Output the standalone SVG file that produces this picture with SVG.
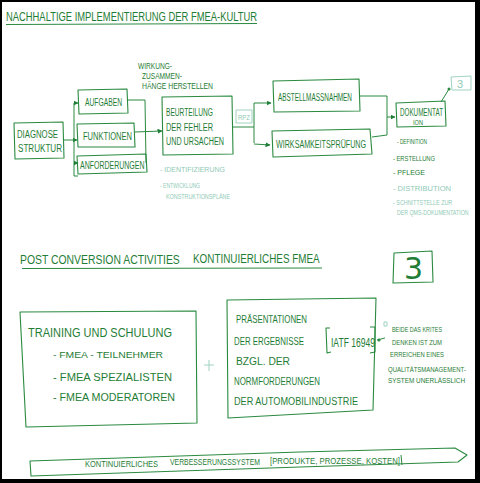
<svg xmlns="http://www.w3.org/2000/svg" width="480" height="483" viewBox="0 0 480 483">
<defs>
<marker id="ah" viewBox="0 0 10 10" refX="9" refY="5" markerWidth="5" markerHeight="5" orient="auto"><path d="M0,0 L10,5 L0,10 z" fill="#1f7f36"/></marker>
<style>
.bx{fill:none;stroke:#2a8a40;stroke-width:1.1;stroke-linejoin:round}
.ln{fill:none;stroke:#2a8a40;stroke-width:1}
.t{font-family:"Liberation Sans",Arial,sans-serif;fill:#1f7d36}
.lt{font-family:"Liberation Sans",Arial,sans-serif;fill:#8fcab6}
.lb{fill:none;stroke:#9fd3c0;stroke-width:1}
</style>
</defs>
<rect x="0" y="0" width="480" height="483" fill="#ffffff"/>
<rect x="0" y="0" width="480" height="2" fill="#000"/>
<rect x="0" y="0" width="2" height="483" fill="#000"/>
<rect x="475" y="0" width="5" height="483" fill="#000"/>
<rect x="0" y="479" width="480" height="4" fill="#000"/>

<g id="title1">
<text class="t" x="6" y="21" font-size="13" textLength="251" lengthAdjust="spacingAndGlyphs">NACHHALTIGE IMPLEMENTIERUNG DER FMEA-KULTUR</text>
<path class="ln" d="M6,24.5 L257,23.5"/>
</g>
<g id="title2">
<text class="t" transform="translate(20,264) scale(0.8,1)" font-size="13">POST CONVERSION ACTIVITIES</text>
<text class="t" transform="translate(193,263) scale(0.76,1)" font-size="13">KONTINUIERLICHES FMEA</text>
<path class="ln" d="M22,268.5 L322,268"/>
</g>

<g id="connectors">
<path class="ln" d="M64,140 L77,140" marker-end="url(#ah)"/>
<path class="ln" d="M74,103 L74,176 L78,176"/>
<path class="ln" d="M74,103 L78,103" marker-end="url(#ah)"/>
<path class="ln" d="M74,163 L78,163" marker-end="url(#ah)"/>
<path class="ln" d="M128,100 L145,100 L146,163 L147,163"/>
<path class="ln" d="M135,132 L162,131" marker-end="url(#ah)"/>
<path class="ln" d="M233,127 L254,127"/>
<path class="ln" d="M254,103 L254,143"/>
<path class="ln" d="M254,103 L271,103" marker-end="url(#ah)"/>
<path class="ln" d="M254,144 L270,145" marker-end="url(#ah)"/>
<path class="ln" d="M360,96 L387,96 L387,135 L372,137"/>
<path class="ln" d="M387,117 L395,117" marker-end="url(#ah)"/>
<path class="ln" d="M441,102 L449,89"/>
<circle cx="449" cy="89" r="1.5" fill="#2a8a40"/>
<path class="ln" d="M377,340 L385,338"/>
<circle cx="379" cy="340" r="1.5" fill="#2a8a40"/>
</g>

<g id="diagnose">
<path class="bx" d="M14,123 L63,122 L64,158 L15,159 Z"/>
<text class="t" x="17" y="138" font-size="10" textLength="41" lengthAdjust="spacingAndGlyphs">DIAGNOSE</text>
<text class="t" x="18" y="152" font-size="10" textLength="44" lengthAdjust="spacingAndGlyphs">STRUKTUR</text>
</g>
<g id="aufgaben">
<path class="bx" d="M78,90 L127,89 L128,113 L79,114 Z"/>
<text class="t" x="85" y="106" font-size="10" textLength="37" lengthAdjust="spacingAndGlyphs">AUFGABEN</text>
</g>
<g id="funktionen">
<path class="bx" d="M77,124 L134,123 L135,147 L78,147 Z"/>
<text class="t" x="83" y="140" font-size="11" textLength="49" lengthAdjust="spacingAndGlyphs">FUNKTIONEN</text>
</g>
<g id="anforderungen">
<path class="bx" d="M77,156 L146,154 L147,172 L78,174 Z"/>
<text class="t" transform="translate(80,169) scale(0.7,1)" font-size="10">ANFORDERUNGEN</text>
</g>
<g id="wirkung">
<text class="t" x="138" y="69" font-size="9" textLength="34" lengthAdjust="spacingAndGlyphs">WIRKUNG-</text>
<text class="t" x="142" y="79" font-size="9" textLength="40" lengthAdjust="spacingAndGlyphs">ZUSAMMEN-</text>
<text class="t" x="142" y="89" font-size="9" textLength="71" lengthAdjust="spacingAndGlyphs">HÄNGE HERSTELLEN</text>
</g>
<g id="beurteilung">
<path class="bx" d="M162,97 L232,96 L233,154 L163,155 Z"/>
<text class="t" x="166" y="116" font-size="10" textLength="47" lengthAdjust="spacingAndGlyphs">BEURTEILUNG</text>
<text class="t" x="166" y="131" font-size="10" textLength="47" lengthAdjust="spacingAndGlyphs">DER FEHLER</text>
<text class="t" x="166" y="145" font-size="10" textLength="58" lengthAdjust="spacingAndGlyphs">UND URSACHEN</text>
<text class="lt" x="160" y="172" font-size="8" textLength="65" lengthAdjust="spacingAndGlyphs">- IDENTIFIZIERUNG</text>
<text class="lt" x="160" y="188" font-size="8" textLength="40" lengthAdjust="spacingAndGlyphs">- ENTWICKLUNG</text>
<text class="lt" x="166" y="199" font-size="8" textLength="64" lengthAdjust="spacingAndGlyphs">KONSTRUKTIONSPLÄNE</text>
</g>
<g id="rpz">
<path class="lb" d="M236,110 L252,110 L252,123 L236,123 Z"/>
<text class="lt" x="238" y="120" font-size="7" textLength="12" lengthAdjust="spacingAndGlyphs">RPZ</text>
</g>
<g id="abstell">
<path class="bx" d="M273,81 L359,79 L360,111 L274,112 Z"/>
<text class="t" x="278" y="101" font-size="10" textLength="74" lengthAdjust="spacingAndGlyphs">ABSTELLMASSNAHMEN</text>
</g>
<g id="wirksamkeit">
<path class="bx" d="M272,131 L370,129 L372,154 L273,157 Z"/>
<text class="t" x="276" y="148" font-size="10" textLength="90" lengthAdjust="spacingAndGlyphs">WIRKSAMKEITSPRÜFUNG</text>
</g>
<g id="dokumentation">
<path class="bx" d="M396,103 L445,101 L446,126 L397,127 Z"/>
<text class="t" x="400" y="116" font-size="10" textLength="43" lengthAdjust="spacingAndGlyphs">DOKUMENTAT</text>
<text class="t" x="413" y="124.5" font-size="6.5" textLength="10" lengthAdjust="spacingAndGlyphs">ION</text>
<text class="t" x="397" y="144" font-size="8" textLength="30" lengthAdjust="spacingAndGlyphs">- DEFINITION</text>
<text class="t" x="393" y="161" font-size="8" textLength="42" lengthAdjust="spacingAndGlyphs">- ERSTELLUNG</text>
<text class="t" x="393" y="175" font-size="8" textLength="32" lengthAdjust="spacingAndGlyphs">- PFLEGE</text>
<text class="lt" x="393" y="191" font-size="8" textLength="58" lengthAdjust="spacingAndGlyphs">- DISTRIBUTION</text>
<text class="lt" transform="translate(393,205) scale(0.72,1)" font-size="7.5">- SCHNITTSTELLE ZUR</text>
<text class="lt" transform="translate(397,215) scale(0.7,1)" font-size="7.5">DER QMS-DOKUMENTATION</text>
</g>
<g id="ref3small">
<path class="lb" d="M451,77 L471,76 L471,90 L452,90 Z"/>
<text class="lt" x="457" y="88" font-size="11">3</text>
</g>
<g id="ref3big">
<path class="bx" d="M394,253 L432,251 L433,282 L393,283 Z"/>
<text class="t" x="404" y="279" font-size="30" style="font-family:'DejaVu Sans',sans-serif">3</text>
</g>

<g id="training">
<path class="bx" d="M20,312 L196,311 L197,423 L26,427 Z"/>
<text class="t" x="28" y="337" font-size="12" textLength="144" lengthAdjust="spacingAndGlyphs">TRAINING UND SCHULUNG</text>
<text class="t" x="53" y="358" font-size="9" textLength="110" lengthAdjust="spacingAndGlyphs">- FMEA - TEILNEHMER</text>
<text class="t" x="53" y="381" font-size="11" textLength="119" lengthAdjust="spacingAndGlyphs">- FMEA  SPEZIALISTEN</text>
<text class="t" x="53" y="401" font-size="11" textLength="122" lengthAdjust="spacingAndGlyphs">- FMEA  MODERATOREN</text>
</g>
<g id="plus">
<path class="lb" d="M204,365 L214,365 M209,360 L209,371"/>
</g>
<g id="praesentation">
<path class="bx" d="M227,300 L376,298 L373,410 L228,418 Z"/>
<text class="t" x="236" y="323" font-size="10" textLength="71" lengthAdjust="spacingAndGlyphs">PRÄSENTATIONEN</text>
<text class="t" x="234" y="345" font-size="10" textLength="70" lengthAdjust="spacingAndGlyphs">DER ERGEBNISSE</text>
<text class="t" x="236" y="365" font-size="10" textLength="54" lengthAdjust="spacingAndGlyphs">BZGL.  DER</text>
<text class="t" x="234" y="385" font-size="10" textLength="86" lengthAdjust="spacingAndGlyphs">NORMFORDERUNGEN</text>
<text class="t" x="234" y="405" font-size="10" textLength="124" lengthAdjust="spacingAndGlyphs">DER AUTOMOBILINDUSTRIE</text>
<path class="bx" d="M330,328 L326,328 L327,353 L331,352 M370,327 L375,327 L375,352 L370,353"/>
<text class="t" x="331" y="347" font-size="12" textLength="44" lengthAdjust="spacingAndGlyphs">IATF 16949</text>
</g>
<g id="note">
<path class="lb" d="M384,322 L387,322 L387,326 L384,326 Z"/>
<text class="t" x="392" y="332" font-size="8" textLength="50" lengthAdjust="spacingAndGlyphs">BEIDE DAS KRITES</text>
<text class="t" x="392" y="345" font-size="8" textLength="50" lengthAdjust="spacingAndGlyphs">DENKEN IST ZUM</text>
<text class="t" x="390" y="357" font-size="8" textLength="54" lengthAdjust="spacingAndGlyphs">ERREICHEN EINES</text>
<text class="t" transform="translate(388,372) scale(0.75,1)" font-size="8">QUALITÄTSMANAGEMENT-</text>
<text class="t" transform="translate(388,383) scale(0.8,1)" font-size="8">SYSTEM UNERLÄSSLICH</text>
</g>
<g id="kvp">
<path class="bx" d="M30,461 L300,452 L455,448 L467,455 L458,462 L300,467 L31,476 Z" stroke-width="1"/>
<text class="t" x="85" y="467" font-size="8.5" textLength="73" lengthAdjust="spacingAndGlyphs">KONTINUIERLICHES</text>
<text class="t" x="170" y="465" font-size="8.5" textLength="90" lengthAdjust="spacingAndGlyphs">VERBESSERUNGSSYSTEM</text>
<text class="t" x="270" y="464" font-size="8.5" textLength="130" lengthAdjust="spacingAndGlyphs">[PRODUKTE, PROZESSE, KOSTEN]</text>
<path class="ln" d="M401,455 L402,465" stroke-width="0.8"/>
</g>
</svg>
